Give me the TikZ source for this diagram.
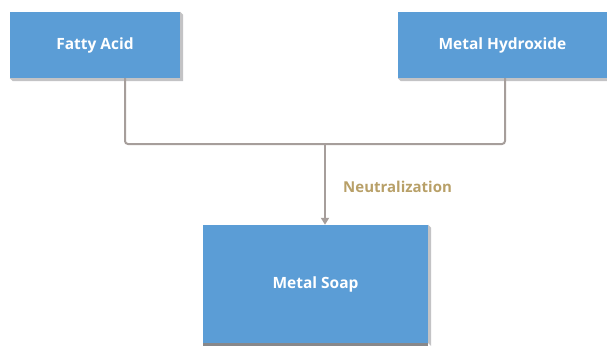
\documentclass[tikz,border=0pt]{standalone}
\usepackage{fontspec}
\setmainfont{Open Sans}
\usetikzlibrary{arrows.meta}
\definecolor{boxblue}{RGB}{91,157,214}
\definecolor{boxshade}{RGB}{195,195,197}
\definecolor{linkgray}{RGB}{166,158,155}
\definecolor{labelgold}{RGB}{184,160,104}
\tikzset{
  procbox/.style={fill=boxblue, draw=none, inner sep=0pt, text=white,
    font=\fontsize{15.5}{18}\selectfont\bfseries},
  conn/.style={draw=linkgray, line width=2pt},
  shade3d/.style={fill=boxshade, draw=none}
}
\begin{document}
\begin{tikzpicture}[x=1pt,y=1pt]
  \useasboundingbox (0,0) rectangle (607,346);
  % process boxes
  \node[procbox, minimum width=170, minimum height=66] (fa) at (95,301) {Fatty Acid};
  \node[procbox, minimum width=209, minimum height=66] (mh) at (502.5,301) {Metal Hydroxide};
  \node[procbox, minimum width=225, minimum height=118] (ms) at (315.5,62) {Metal Soap};
  % bevelled shadows
  \fill[shade3d] (fa.north east) -- ++(3,-3) -- ([shift={(3,-3)}]fa.south east)
    -- ([shift={(3,-3)}]fa.south west) -- (fa.south west) -- (fa.south east) -- cycle;
  \fill[shade3d] (mh.south west) -- ([shift={(3,-3)}]mh.south west)
    -- ([yshift=-3]mh.south east) -- (mh.south east) -- cycle;
  \fill[shade3d] (ms.north east) -- ++(3,-3) -- ([shift={(3,-3)}]ms.south east)
    -- (ms.south east) -- cycle;
  \fill[boxshade!70!black] (ms.south west) rectangle ([yshift=-3]ms.south east);
  % connectors
  \coordinate (j) at (325,202);
  \draw[conn, rounded corners=3pt] ([xshift=30]fa.south) |- (j) -| ([xshift=2.5]mh.south);
  \draw[conn, -{Triangle[length=7pt,width=8pt]}] (j) -- (j |- ms.north);
  \node[anchor=west, text=labelgold, font=\fontsize{15}{17}\selectfont\bfseries, inner sep=0pt]
    (lbl) at (343,159) {Neutralization};
\end{tikzpicture}
\end{document}
